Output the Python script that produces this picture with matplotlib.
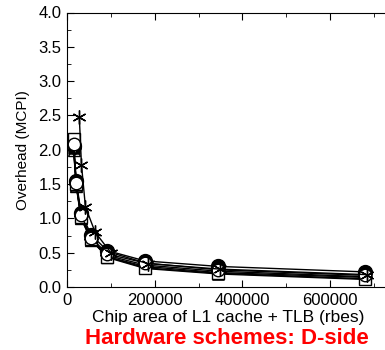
import matplotlib
matplotlib.use("Agg")
import matplotlib.pyplot as plt
from matplotlib.ticker import MultipleLocator

plt.rcParams['font.family'] = ['Liberation Sans', 'DejaVu Sans']

# data
x_std = [15000, 21000, 32000, 55000, 92000, 178000, 345000, 680000]
x_star = [28000, 33000, 42000, 64000, 100000, 185000, 350000, 685000]

y_star = [2.48, 1.78, 1.17, 0.80, 0.50, 0.34, 0.26, 0.18]
y_square = [2.15, 1.50, 1.02, 0.70, 0.44, 0.28, 0.20, 0.12]
y_fcircle = [2.05, 1.55, 1.08, 0.76, 0.53, 0.38, 0.30, 0.22]
y_ocircle = [2.08, 1.52, 1.05, 0.72, 0.48, 0.35, 0.25, 0.17]
y_diamond = [2.02, 1.50, 1.03, 0.70, 0.46, 0.32, 0.23, 0.15]
y_triangle = [2.00, 1.47, 1.00, 0.68, 0.44, 0.30, 0.21, 0.14]
y_boxx = [2.03, 1.49, 1.01, 0.69, 0.43, 0.27, 0.19, 0.11]

fig = plt.figure(figsize=(3.85, 3.5), dpi=100)
ax = fig.add_axes([67/385, 1-287/350, 1-67/385 + 0.01, (287-12.5)/350])

series = [
    (x_std, y_fcircle, dict(marker='o', mfc='black', mec='black', ms=10)),
    (x_std, y_triangle, dict(marker='^', mfc='white', mec='black', ms=8)),
    (x_std, y_diamond, dict(marker='D', mfc='white', mec='black', ms=7)),
    (x_std, y_boxx, dict(marker='$\\boxtimes$', mfc='black', mec='black', ms=8)),
    (x_std, y_square, dict(marker='s', mfc='white', mec='black', ms=9)),
    (x_std, y_ocircle, dict(marker='o', mfc='white', mec='black', ms=9)),
    (x_star, y_star, dict(marker='*', mfc='black', mec='black', ms=0)),
]
for xs, ys, st in series:
    ax.plot(xs, ys, color='black', lw=1.0, **st)
ax.plot(x_star, y_star, color='black', lw=0, marker=(6, 2, 0), ms=10, mew=1)

ax.set_xlim(0, 734000)
ax.set_ylim(0, 4.0)
ax.xaxis.set_major_locator(MultipleLocator(200000))
ax.xaxis.set_minor_locator(MultipleLocator(100000))
ax.yaxis.set_major_locator(MultipleLocator(0.5))
ax.yaxis.set_minor_locator(MultipleLocator(0.25))
ax.yaxis.set_major_formatter(matplotlib.ticker.FormatStrFormatter('%.1f'))
ax.tick_params(which='both', direction='in', top=True, right=False, labelsize=12, pad=4)
ax.tick_params(which='major', length=5)
ax.tick_params(which='minor', length=3)
ax.spines['right'].set_visible(False)

ax.set_xlabel('Chip area of L1 cache + TLB (rbes)', fontsize=12.5, labelpad=2)
ax.set_ylabel('Overhead (MCPI)', fontsize=11)
ax.yaxis.set_label_coords(-0.116, 0.5)
fig.text(227/385, 1-338/350, 'Hardware schemes: D-side', color='red',
         fontsize=16, fontweight='bold', ha='center', va='center')

fig.savefig('out.png', dpi=100)
